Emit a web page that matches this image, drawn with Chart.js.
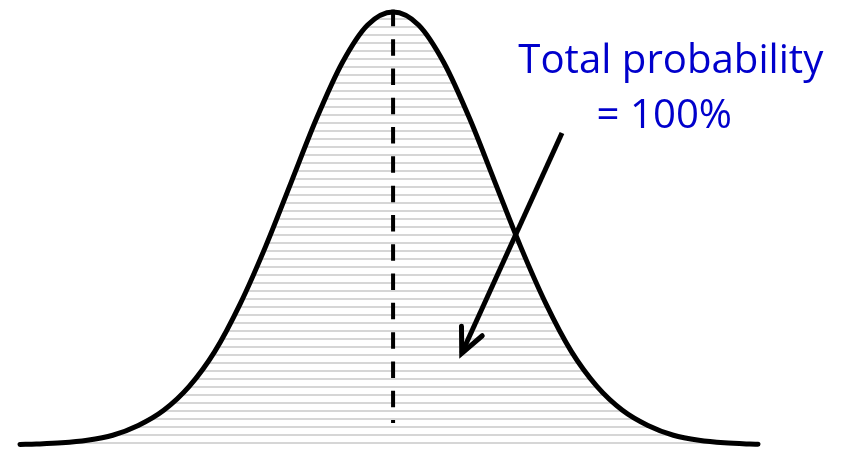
<!DOCTYPE html>
<html>
<head>
<meta charset="utf-8">
<script src="https://cdn.jsdelivr.net/npm/chart.js@4"></script>
<style>
  body { margin: 0; background: #fff; }
  #wrap { width: 842px; height: 449px; position: relative; }
</style>
</head>
<body>
<div id="wrap"><canvas id="myChart"></canvas></div>
<script>
// bell curve, x in standard deviations from the mean
var zValues = [-3.66, -3.5, -3.25, -3, -2.75, -2.5, -2.25, -2, -1.75, -1.5, -1.25, -1, -0.75, -0.5, -0.25,
               0, 0.25, 0.5, 0.75, 1, 1.25, 1.5, 1.75, 2, 2.25, 2.5, 2.75, 3, 3.25, 3.5, 3.58]
var density = [0.0005, 0.0009, 0.002, 0.0044, 0.009, 0.018, 0.032, 0.054, 0.086, 0.130, 0.183, 0.242, 0.301, 0.352, 0.387,
               0.399, 0.387, 0.352, 0.301, 0.242, 0.183, 0.130, 0.086, 0.054, 0.032, 0.018, 0.009, 0.0044, 0.002, 0.0009, 0.0007]

// dashed line at the mean
var meanX = [0, 0]
var meanY = [0.401, 0.0203]

// arrow pointing into the shaded area: [tail, tip]
var arrowX = [1.657, 0.6735]
var arrowY = [0.2875, 0.0845]

var labelLines = ["Total probability", "= 100%"]

function hatchPattern(ctx) {
    var tile = document.createElement("canvas")
    tile.width = 8
    tile.height = 8
    var t = tile.getContext("2d")
    t.fillStyle = "#d6d6d6"
    t.fillRect(0, 2, 8, 2)
    return ctx.createPattern(tile, "repeat")
}

var annotations = {
    id: "annotations",
    afterDatasetsDraw: function (chart) {
        var ctx = chart.ctx
        var xs = chart.scales.x
        var ys = chart.scales.y

        // arrow
        var x0 = xs.getPixelForValue(arrowX[0]), y0 = ys.getPixelForValue(arrowY[0])
        var x1 = xs.getPixelForValue(arrowX[1]), y1 = ys.getPixelForValue(arrowY[1])
        var ang = Math.atan2(y0 - y1, x0 - x1)
        var head = 27, spread = 25 * Math.PI / 180
        ctx.save()
        ctx.strokeStyle = "#000"
        ctx.lineWidth = 5
        ctx.lineCap = "butt"
        ctx.beginPath()
        ctx.moveTo(x0, y0)
        ctx.lineTo(x1, y1)
        ctx.stroke()
        ctx.lineCap = "round"
        ctx.lineJoin = "miter"
        ctx.beginPath()
        ctx.moveTo(x1 + head * Math.cos(ang - spread), y1 + head * Math.sin(ang - spread))
        ctx.lineTo(x1, y1)
        ctx.lineTo(x1 + head * Math.cos(ang + spread), y1 + head * Math.sin(ang + spread))
        ctx.stroke()
        ctx.restore()

        // label
        ctx.save()
        ctx.fillStyle = "#0000cc"
        ctx.font = "40px 'Open Sans'"
        ctx.textAlign = "center"
        ctx.textBaseline = "alphabetic"
        var squeeze = 305 / ctx.measureText(labelLines[0]).width
        var rows = [[670.8, 73.3], [664.3, 128.3]]
        for (let i = 0; i < labelLines.length; i++) {
            ctx.save()
            ctx.translate(rows[i][0], rows[i][1])
            ctx.scale(squeeze, 1)
            ctx.fillText(labelLines[i], 0, 0)
            ctx.restore()
        }
        ctx.restore()
    }
}

var canvas = document.getElementById("myChart")
var ctx = canvas.getContext("2d")

var curvePoints = []
zValues.forEach((z, i) => curvePoints.push({ x: z, y: density[i] }))
var meanPoints = []
meanX.forEach((x, i) => meanPoints.push({ x: x, y: meanY[i] }))

var myChart = new Chart(ctx, {
    type: "line",
    data: {
        datasets: [
            {
                data: curvePoints,
                borderColor: "#000",
                borderWidth: 5,
                borderCapStyle: "round",
                backgroundColor: hatchPattern(ctx),
                fill: "origin",
                cubicInterpolationMode: "monotone",
                pointRadius: 0,
                clip: false
            },
            {
                data: meanPoints,
                borderColor: "#000",
                borderWidth: 4,
                borderDash: [16.5, 12.8],
                borderCapStyle: "butt",
                fill: false,
                pointRadius: 0,
                clip: false
            }
        ]
    },
    plugins: [annotations],
    options: {
        responsive: true,
        maintainAspectRatio: false,
        animation: false,
        layout: { padding: { left: 20, right: 84, top: 12, bottom: 4 } },
        scales: {
            x: { type: "linear", min: -3.66, max: 3.58, display: false },
            y: { min: 0, max: 0.399, display: false }
        },
        plugins: {
            legend: { display: false },
            tooltip: { enabled: false },
            filler: { drawTime: "beforeDatasetsDraw" }
        }
    }
})
</script>
</body>
</html>
